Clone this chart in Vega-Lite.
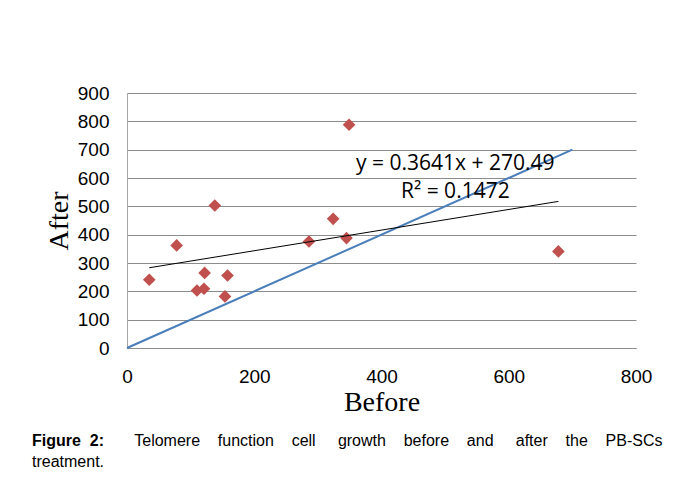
{
  "$schema": "https://vega.github.io/schema/vega-lite/v6.json",
  "width": 509,
  "height": 255,
  "autosize": "none",
  "padding": {"left": 127, "top": 93, "right": 42, "bottom": 134},
  "background": "white",
  "config": {"view": {"stroke": null}, "font": "Liberation Sans"},
  "title": {
    "text": "Figure\u00a0\u00a02:",
    "subtitle": ["\u200b\u00a0\u00a0\u00a0\u00a0\u00a0\u00a0\u00a0\u00a0\u00a0\u00a0\u00a0\u00a0\u00a0\u00a0\u00a0\u00a0\u00a0\u00a0\u00a0\u00a0\u00a0\u00a0\u00a0Telomere \u00a0\u00a0\u00a0function \u00a0\u00a0\u00a0cell \u00a0\u00a0\u00a0\u00a0growth \u00a0\u00a0\u00a0before \u00a0\u00a0\u00a0and \u00a0\u00a0\u00a0\u00a0after \u00a0\u00a0\u00a0the \u00a0\u00a0\u00a0PB-SCs", "treatment."],
    "orient": "bottom",
    "anchor": "start",
    "frame": "group",
    "dx": -95,
    "offset": 17,
    "font": "Liberation Sans",
    "fontSize": 16,
    "fontWeight": "bold",
    "color": "#000000",
    "subtitleFont": "Liberation Sans",
    "subtitleFontSize": 16,
    "subtitleFontWeight": "normal",
    "subtitleColor": "#000000",
    "subtitlePadding": -16,
    "subtitleLineHeight": 21
  },
  "datasets": {
    "points": [
      {"before": 35, "after": 241},
      {"before": 78, "after": 362},
      {"before": 110, "after": 203},
      {"before": 121, "after": 209},
      {"before": 122, "after": 265},
      {"before": 138, "after": 503},
      {"before": 154, "after": 182},
      {"before": 158, "after": 256},
      {"before": 286, "after": 376},
      {"before": 324, "after": 456},
      {"before": 345, "after": 388},
      {"before": 349, "after": 788},
      {"before": 678, "after": 341}
    ],
    "identity": [
      {"before": 0, "after": 0},
      {"before": 700, "after": 700}
    ],
    "trend": [
      {"before": 35, "after": 283.2},
      {"before": 678, "after": 517.4}
    ],
    "labels": [
      {"before": 516, "after": 650, "label": "y = 0.3641x + 270.49"},
      {"before": 516, "after": 549, "label": "R² = 0.1472"}
    ]
  },
  "encoding": {
    "x": {
      "field": "before",
      "type": "quantitative",
      "scale": {"domain": [0, 800], "nice": false, "zero": false},
      "axis": {
        "title": "Before",
        "values": [0, 200, 400, 600, 800],
        "grid": false,
        "ticks": false,
        "tickSize": 0,
        "labelFont": "Liberation Sans",
        "labelFontSize": 19,
        "labelColor": "#000000",
        "labelPadding": 19,
        "labelFlush": false,
        "labelOverlap": false,
        "titleFont": "Liberation Serif",
        "titleFontSize": 28,
        "titleFontWeight": "normal",
        "titleColor": "#000000",
        "titlePadding": 2,
        "domainColor": "#8C8C8C"
      }
    },
    "y": {
      "field": "after",
      "type": "quantitative",
      "scale": {"domain": [0, 900], "nice": false, "zero": false},
      "axis": {
        "title": "After",
        "values": [0, 100, 200, 300, 400, 500, 600, 700, 800, 900],
        "grid": true,
        "gridColor": "#8C8C8C",
        "gridOpacity": 1,
        "ticks": false,
        "tickSize": 0,
        "labelFont": "Liberation Sans",
        "labelFontSize": 19,
        "labelColor": "#000000",
        "labelPadding": 18,
        "labelFlush": false,
        "labelOverlap": false,
        "titleFont": "Liberation Serif",
        "titleFontSize": 28,
        "titleFontWeight": "normal",
        "titleColor": "#000000",
        "titlePadding": 4,
        "domainColor": "#A6A6A6"
      }
    }
  },
  "layer": [
    {
      "data": {"name": "points"},
      "mark": {"type": "point", "shape": "diamond", "filled": true, "color": "#C0504D", "opacity": 1, "size": 160}
    },
    {
      "data": {"name": "identity"},
      "mark": {"type": "line", "color": "#4A7EBB", "strokeWidth": 2}
    },
    {
      "data": {"name": "trend"},
      "mark": {"type": "line", "color": "#000000", "strokeWidth": 1}
    },
    {
      "data": {"name": "labels"},
      "mark": {"type": "text", "font": "Open Sans", "fontSize": 21, "color": "#000000", "align": "center", "baseline": "middle"},
      "encoding": {"text": {"field": "label", "type": "nominal"}}
    }
  ]
}
